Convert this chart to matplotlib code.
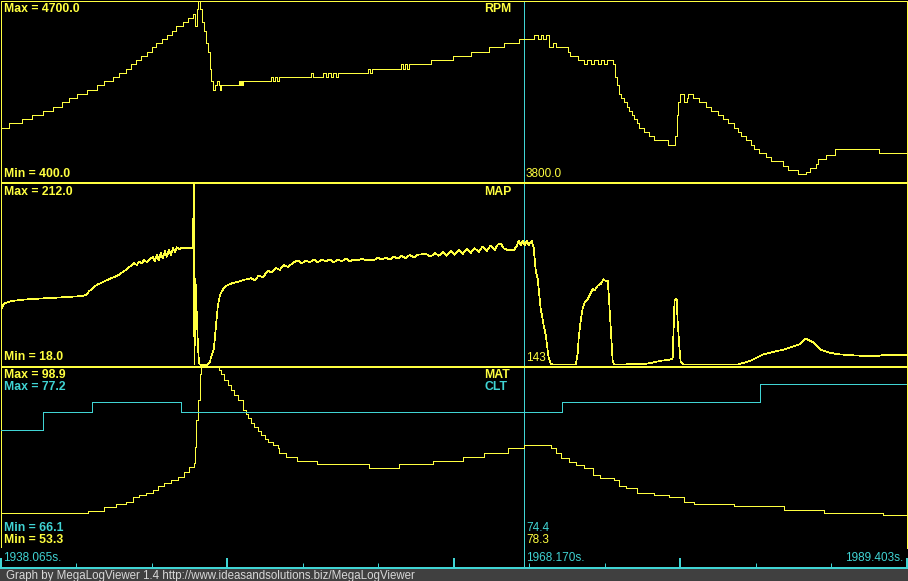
import numpy as np
import matplotlib.pyplot as plt

plt.rcParams['font.family'] = ['Liberation Sans', 'DejaVu Sans']

# Time window (s). Left label, cursor, right label.
start_time = 1938.065
cursor_time = 1968.170
end_time_label = 1989.403
view_span = 52.15   # seconds across the visible window

# RPM (elapsed seconds, rpm)
rpm_t = [0.00, 0.46, 1.21, 1.78, 2.42, 2.99, 3.51, 3.91, 4.37, 4.95, 5.53, 5.93,
         6.45, 6.79, 7.20, 7.48, 7.77, 8.06, 8.40, 8.69, 8.92, 9.27, 9.55, 9.84,
         10.07, 10.48, 10.76, 11.05, 11.17, 11.28, 11.34, 11.45, 11.57, 11.68,
         11.80, 11.91, 12.03, 12.09, 12.20, 12.32, 12.43, 12.55, 12.61, 12.66,
         13.70, 13.76, 13.81, 13.87, 13.93, 15.54, 15.66, 15.77, 15.89, 16.00,
         17.84, 17.96, 18.53, 18.71, 18.82, 18.99, 19.11, 19.28, 19.40, 21.12,
         21.24, 21.35, 23.02, 23.14, 23.25, 23.37, 23.48, 24.75, 26.02, 27.05,
         28.09, 28.95, 29.82, 30.68, 30.91, 31.08, 31.20, 31.37, 31.54, 31.77,
         31.95, 32.64, 32.75, 33.21, 33.56, 33.73, 33.96, 34.13, 34.36, 34.54,
         34.71, 34.88, 35.23, 35.34, 35.46, 35.57, 35.69, 35.86, 36.03, 36.15,
         36.32, 36.43, 36.61, 36.72, 37.01, 37.30, 37.59, 38.39, 38.79, 38.91,
         38.97, 39.08, 39.31, 39.49, 39.54, 39.83, 40.18, 40.58, 40.87, 41.27,
         41.56, 41.85, 42.19, 42.42, 42.59, 42.88, 43.17, 43.34, 43.63, 44.03,
         44.32, 45.01, 45.30, 45.88, 46.34, 46.62, 46.91, 47.08, 47.49, 48.06,
         50.54, 52.21]
rpm = [1700, 1800, 1900, 2000, 2100, 2200, 2300, 2400, 2500, 2600, 2700, 2800,
       2900, 3000, 3100, 3200, 3300, 3400, 3500, 3600, 3700, 3800, 3900, 4000,
       4100, 4200, 4300, 4400, 4100, 4500, 4700, 4500, 4200, 4000,
       3700, 3500, 3100, 2800, 2600, 2700, 2800, 2700, 2600, 2700,
       2800, 2700, 2800, 2700, 2800, 2900, 2800, 2900, 2800, 2900,
       3000, 2900, 3000, 2900, 3000, 2900, 3000, 2900, 3000, 3100,
       3000, 3100, 3200, 3100, 3200, 3100, 3200, 3300, 3400, 3500,
       3600, 3700, 3800, 3900, 3800, 3900, 3800, 3900, 3600, 3700,
       3600, 3500, 3400, 3300, 3200, 3300, 3200, 3300, 3200, 3300,
       3200, 3300, 3200, 2900, 2700, 2500, 2400, 2300, 2200, 2100,
       2000, 1900, 1800, 1700, 1600, 1500, 1400, 1300, 1500, 2000,
       2300, 2500, 2300, 2400, 2500, 2400, 2300, 2200, 2100, 2000,
       1900, 1800, 1700, 1600, 1500, 1400, 1300, 1200, 1100, 1000,
       900, 800, 700, 600, 650, 750, 850, 950, 1050, 1200,
       1100, 1100]

# MAP (elapsed seconds, kPa)
map_t = [0.00, 0.17, 0.46, 0.75, 1.15, 1.90, 2.88, 3.86, 4.60, 4.89, 5.07, 5.30,
         5.53, 5.76, 6.22, 6.73, 7.20, 7.66, 7.83, 7.94, 8.12, 8.23, 8.40, 8.63,
         8.75, 8.86, 8.98, 9.09, 9.21, 9.32, 9.44, 9.55, 9.67, 9.79, 9.90, 10.02,
         10.13, 10.25, 10.36, 11.05, 11.11, 11.14, 11.20, 11.28, 11.34, 11.40,
         11.45, 11.68, 11.91, 12.03, 12.15, 12.26, 12.38, 12.49, 12.61, 12.72,
         12.84, 13.07, 13.35, 13.64, 13.93, 14.39, 14.62, 14.85, 15.08, 15.37,
         15.60, 15.83, 16.06, 16.29, 16.52, 16.87, 17.10, 17.33, 17.56, 17.79,
         18.02, 18.25, 18.48, 18.71, 18.94, 19.17, 19.40, 19.63, 19.86, 20.09,
         20.32, 20.55, 20.78, 21.01, 21.24, 21.47, 21.70, 21.93, 22.16, 22.39,
         22.62, 22.85, 23.08, 23.31, 23.54, 23.77, 24.00,
         24.46, 24.75, 24.98, 25.21, 25.44, 25.67, 25.90, 26.13,
         26.36, 26.59, 26.82, 27.05, 27.28, 27.51, 27.74, 27.97, 28.20, 28.43,
         28.61, 28.78, 28.95, 29.18, 29.53, 29.70, 29.82, 29.93, 30.05, 30.16,
         30.28, 30.39, 30.56, 30.68, 30.79, 30.91, 31.08, 31.26, 31.37, 31.54,
         31.66, 31.77, 33.10, 33.21, 33.27, 33.38, 33.50, 33.62, 33.79, 33.96,
         34.08, 34.19, 34.36, 34.54, 34.71, 34.82, 34.94, 35.00, 35.11, 35.23,
         35.34, 35.69, 37.24, 37.99, 38.45, 38.68, 38.74, 38.79, 38.91, 38.97,
         39.08, 39.14, 39.31, 40.29, 42.42, 43.17, 43.92, 44.61, 45.07, 45.76,
         46.05, 46.34, 46.51, 46.74, 46.97, 47.20, 47.66, 48.18, 48.93, 49.91,
         50.37, 50.82, 52.21]
map_kpa = [78, 84, 86, 87, 88, 89, 90, 91, 92, 93, 97, 101,
           104, 106, 110, 114, 120, 127, 125, 129, 127, 131, 128, 132,
           134, 129, 136, 130, 138, 132, 140, 134, 141, 136, 143, 139,
           144, 142, 143, 143, 212, 19, 110, 70, 40, 22,
           19, 18, 19, 22, 30, 36, 60, 82, 93, 97,
           101, 104, 106, 107, 109, 111, 109, 114, 112, 119,
           117, 122, 120, 125, 123, 128, 130, 127, 130, 128,
           131, 128, 131, 129, 131, 128, 131, 129, 132, 129,
           131, 130, 132, 130, 131, 130, 133, 131, 133, 131,
           134, 132, 135, 132, 136, 133, 136,
           137, 134, 138, 135, 139, 135, 140, 136,
           141, 137, 142, 138, 143, 139, 145, 140, 146, 141,
           147, 148, 143, 141, 141, 145, 151, 146, 151, 146,
           151, 146, 151, 143, 120, 110, 79, 60, 51, 26,
           20, 19, 19, 30, 47, 65, 79, 85, 89, 95,
           100, 98, 103, 105, 110, 108, 108, 94, 60, 22,
           19, 19, 20, 23, 24, 25, 60, 87, 89, 65,
           35, 22, 19, 19, 19, 23, 30, 33, 35, 39,
           41, 47, 45, 43, 39, 35, 32, 30, 29, 28,
           28, 29, 29]

# MAT (elapsed seconds, deg F)
mat_t = [0.00, 5.01, 5.93, 6.62, 7.20, 7.60, 7.94, 8.35, 8.75, 9.04, 9.38, 9.79,
         10.19, 10.53, 10.82, 11.11, 11.17, 11.25, 11.34, 11.45, 11.51, 12.49,
         12.55, 12.66, 12.84, 13.07, 13.24, 13.41, 13.64, 13.93, 14.10, 14.22,
         14.39, 14.56, 14.79, 14.97, 15.20, 15.37, 15.66, 15.94, 16.00, 16.40,
         17.04, 18.19, 21.18, 22.91, 24.87, 26.59, 27.80, 29.18, 30.10, 31.49,
         31.66, 31.95, 32.23, 32.69, 33.10, 33.56, 34.08, 34.48, 35.28, 35.57,
         35.98, 36.61, 37.59, 38.45, 39.31, 39.89, 42.19, 45.07, 47.37, 50.82,
         52.21]
mat = [61.9, 62.4, 63.4, 64.2, 64.7, 66.0, 66.5, 67.0, 67.7, 68.8, 69.5, 70.3,
       71.0, 72.3, 73.6, 74.6, 78.6, 85.5, 90.5, 96.9, 98.9, 98.9,
       98.1, 96.9, 95.6, 94.3, 93.1, 91.8, 90.5, 88.0, 87.0, 86.0,
       84.7, 83.7, 82.7, 81.7, 80.7, 79.9, 79.1, 78.4, 77.1, 76.1,
       75.1, 74.3, 73.3, 74.3, 75.1, 76.1, 77.1, 78.3, 79.1, 79.1,
       78.4, 77.1, 75.8, 74.8, 74.1, 73.3, 71.5, 70.8, 70.3, 68.8,
       68.2, 67.0, 66.5, 66.0, 64.7, 64.2, 63.7, 62.7, 61.9, 61.4,
       61.4]

# CLT (elapsed seconds, deg F)
clt_t = [0.00, 2.42, 5.24, 10.36, 32.29, 43.69, 52.21]
clt = [73.3, 74.4, 75.0, 74.4, 75.0, 76.1, 76.1]

# panel scales as shown by the Max/Min labels
rpm_lim = (400.0, 4700.0)
map_lim = (18.0, 212.0)
mat_lim = (53.3, 98.9)
clt_lim = (66.1, 77.2)

# values at the cursor
cursor_rpm = 3800.0
cursor_map = 143
cursor_clt = 74.4
cursor_mat = 78.3

YEL = '#ffff40'
CYN = '#40d4d4'
W, H = 908, 581
PX = 72 / 100  # one pixel in points

fig = plt.figure(figsize=(W / 100, H / 100), dpi=100, facecolor='black')


def box(top, bottom, left=1.0, right=906.5):
    return fig.add_axes([left / W, 1 - bottom / H, (right - left) / W, (bottom - top) / H])


def panel(top, bottom, lim):
    ax = box(top, bottom)
    ax.set_facecolor('black')
    ax.set_xlim(0, view_span)
    ax.set_ylim(*lim)
    ax.set_xticks([])
    ax.set_yticks([])
    for s in ax.spines.values():
        s.set_color(YEL)
        s.set_linewidth(PX)
        s.set_antialiased(False)
    ax.axvline(cursor_time - start_time, color=CYN, lw=PX, antialiased=False)
    return ax


def label(x, y, s, color=YEL, bold=True, ha='left', size=8.8):
    fig.text(x / W, 1 - y / H, s, color=color, ha=ha, va='baseline',
             fontsize=size, fontweight='bold' if bold else 'normal')


ax1 = panel(1.0, 182.5, rpm_lim)
ax1.plot(rpm_t, rpm, color=YEL, lw=PX, drawstyle='steps-post', antialiased=False)

ax2 = panel(183.5, 365.5, map_lim)
ax2.plot(map_t, map_kpa, color=YEL, lw=0.5, antialiased=False)

ax3 = panel(366.5, 547.5, mat_lim)
ax3.plot(mat_t, mat, color=YEL, lw=PX, drawstyle='steps-post', antialiased=False)
ax3b = ax3.twinx()
ax3b.set_ylim(*clt_lim)
ax3b.axis('off')
ax3b.plot(clt_t, clt, color=CYN, lw=PX, drawstyle='steps-post', antialiased=False)

# time strip
axt = box(548, 568)
axt.set_facecolor('black')
axt.set_xlim(0, view_span)
axt.set_ylim(0, 1)
for k in ['top', 'left', 'right']:
    axt.spines[k].set_visible(False)
axt.spines['bottom'].set_color(CYN)
axt.spines['bottom'].set_linewidth(2 * PX)
axt.set_xticks(np.linspace(0, view_span, 5))
axt.set_xticks(np.linspace(0, view_span, 13), minor=True)
axt.tick_params(axis='x', which='major', direction='in', length=10 * PX, width=2 * PX,
                color=CYN, labelbottom=False)
axt.tick_params(axis='x', which='minor', direction='in', length=5 * PX, width=PX,
                color=CYN, labelbottom=False)
axt.set_yticks([])
axt.axvline(cursor_time - start_time, color=CYN, lw=PX, antialiased=False)

# footer
axf = fig.add_axes([0, 0, 1, 12 / H])
axf.set_facecolor('#404040')
axf.set_xticks([])
axf.set_yticks([])
for s in axf.spines.values():
    s.set_visible(False)

# labels
label(4, 12, f'Max = {rpm_lim[1]:.1f}')
label(4, 177, f'Min = {rpm_lim[0]:.1f}')
label(484, 12, 'RPM')
label(4, 195, f'Max = {map_lim[1]:.1f}')
label(4, 360, f'Min = {map_lim[0]:.1f}')
label(484, 195, 'MAP')
label(4, 378, f'Max = {mat_lim[1]:.1f}')
label(4, 390, f'Max = {clt_lim[1]:.1f}', color=CYN)
label(4, 531, f'Min = {clt_lim[0]:.1f}', color=CYN)
label(4, 543, f'Min = {mat_lim[0]:.1f}')
label(484, 378, 'MAT')
label(484, 390, 'CLT', color=CYN)

label(526, 177, f'{cursor_rpm:.1f}', bold=False, size=8.5)
label(526, 361, f'{cursor_map}', bold=False, size=8.5)
label(526, 531, f'{cursor_clt:.1f}', color=CYN, bold=False, size=8.5)
label(526, 543, f'{cursor_mat:.1f}', bold=False, size=8.5)

label(3, 561, f'{start_time:.3f}s.', color=CYN, bold=False, size=8.5)
label(526, 561, f'{cursor_time:.3f}s.', color=CYN, bold=False, size=8.5)
label(903, 561, f'{end_time_label:.3f}s.', color=CYN, bold=False, size=8.5, ha='right')

label(6, 579, 'Graph by MegaLogViewer 1.4 http://www.ideasandsolutions.biz/MegaLogViewer',
      color='#d8d8d8', bold=False, size=8.3)

fig.savefig('out.png', dpi=100, facecolor='black')
